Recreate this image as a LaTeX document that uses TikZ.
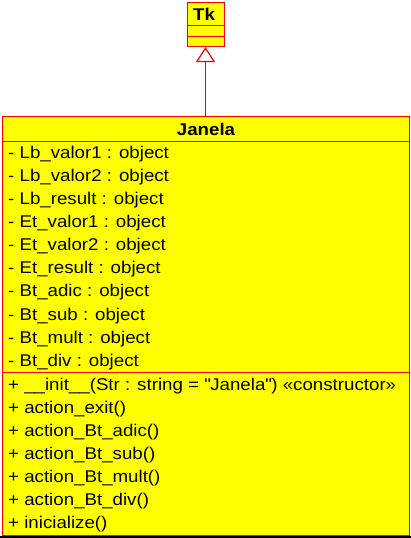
\documentclass[tikz,border=0pt]{standalone}
\usepackage{fontspec}
\setmainfont{Liberation Sans}[FakeStretch=1.1]
\usetikzlibrary{arrows.meta}
\definecolor{umlyellow}{RGB}{255,255,0}
\definecolor{umlred}{RGB}{255,0,0}
\newcommand{\sq}{\XeTeXglyph\XeTeXcharglyph"22\relax}
\tikzset{
  classbox/.style={draw=umlred, fill=umlyellow, line width=1pt, inner sep=0pt, rectangle},
  divider/.style={draw=umlred, line width=1pt},
  member/.style={anchor=base west, inner sep=0pt, font=\fontsize{17}{20}\selectfont},
  title/.style={anchor=base, inner sep=0pt, font=\fontsize{17}{20}\selectfont\bfseries},
  inherit/.style={draw=umlred, color=umlred, line width=1.2pt, -{Triangle[open, length=15pt, width=19pt, fill=white]}}
}
\begin{document}
\begin{tikzpicture}[x=1pt, y=-1pt]
\useasboundingbox (0,0) rectangle (411,538);
% Tk class
\node[classbox, minimum width=37pt, minimum height=44pt] (tk) at (205.5,24.5) {};
\coordinate (tkd1) at (186.5,25);
\coordinate (tkd2) at (186.5,36);
\draw[divider] (tkd1) -- (tkd1 -| tk.east);
\draw[divider] (tkd2) -- (tkd2 -| tk.east);
\node[title] (tkname) at (204,20) {Tk};
% Janela class
\node[classbox, minimum width=407pt, minimum height=419pt] (jan) at (206,326) {};
\coordinate (jd1) at (2.5,141);
\coordinate (jd2) at (2.5,372);
\draw[divider] (jd1) -- (jd1 -| jan.east);
\draw[divider] (jd2) -- (jd2 -| jan.east);
\node[title] (janname) at (206,135) {Janela};
% attributes
\foreach \t [count=\i from 0] in {
  - Lb\_valor1 : object,
  - Lb\_valor2 : object,
  - Lb\_result : object,
  - Et\_valor1 : object,
  - Et\_valor2 : object,
  - Et\_result : object,
  - Bt\_adic : object,
  - Bt\_sub : object,
  - Bt\_mult : object,
  - Bt\_div : object}
  \node[member] (attr\i) at (8,158.3+23.1*\i) {\t};
% methods
\foreach \t [count=\i from 0] in {
  + \_\_init\_\_(Str : string = \sq Janela\sq) «constructor»,
  + action\_exit(),
  + action\_Bt\_adic(),
  + action\_Bt\_sub(),
  + action\_Bt\_mult(),
  + action\_Bt\_div(),
  + inicialize()}
  \node[member] (meth\i) at (8,390+23.1*\i) {\t};
% inheritance
\draw[inherit] (jan.north -| tk.south) -- (tk.south);
% bottom edge line
\coordinate (bl) at (0,537);
\coordinate (br) at (411,537);
\draw[black, line width=1.5pt] (bl) -- (br);
\end{tikzpicture}
\end{document}
